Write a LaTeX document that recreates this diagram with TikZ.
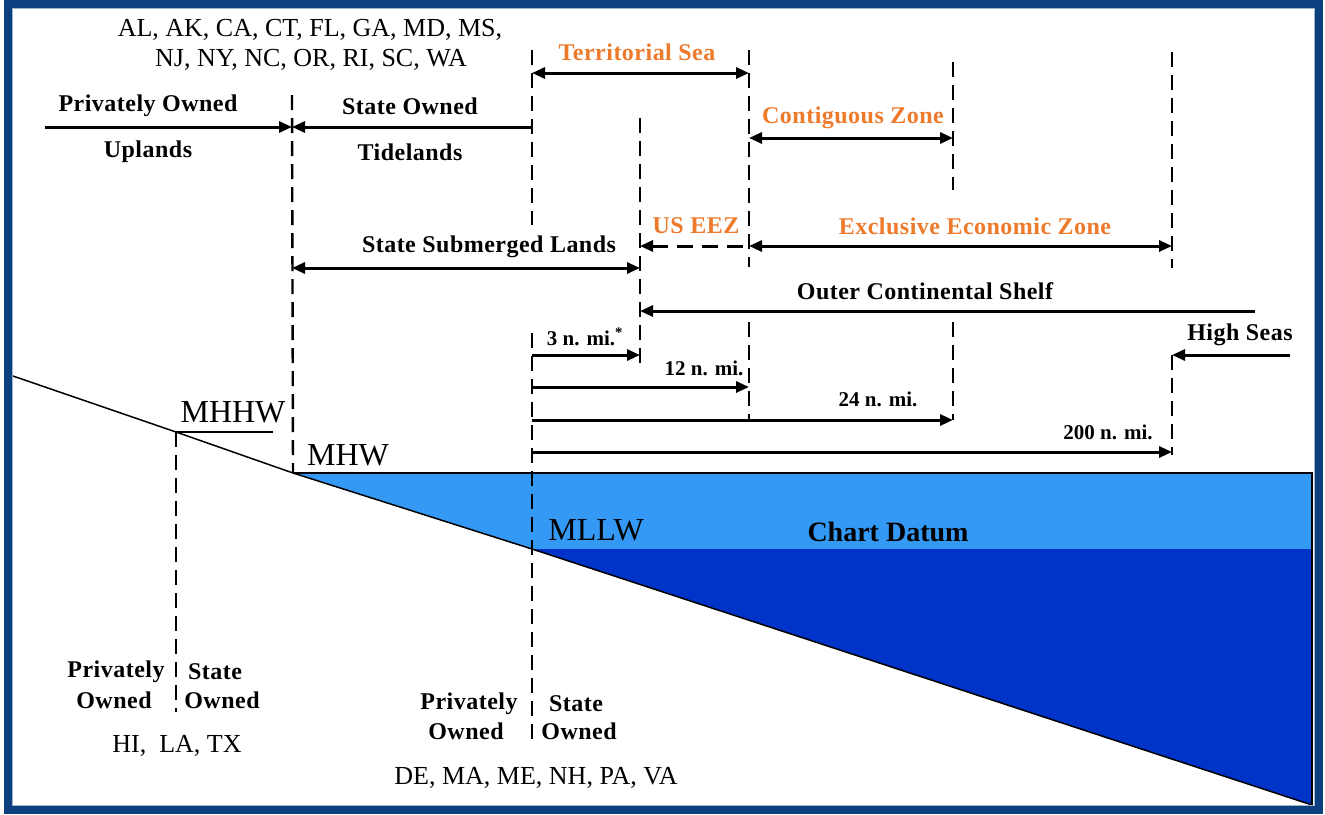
\documentclass[tikz,border=0pt]{standalone}
\usepackage{fontspec}
\setmainfont{Liberation Serif}
\newfontfamily\spacedserif[LetterSpace=2]{Liberation Serif}
\usetikzlibrary{arrows.meta}
\definecolor{frameblue}{HTML}{0B3F7E}
\definecolor{zoneorange}{HTML}{EE7A2C}
\definecolor{shallow}{HTML}{3399F5}
\definecolor{deep}{HTML}{0033C8}
\tikzset{
  lbl/.style={inner sep=0pt, font=\spacedserif\bfseries\fontsize{24}{28}\selectfont},
  olbl/.style={lbl, text=zoneorange},
  slbl/.style={inner sep=0pt, font=\bfseries\fontsize{21}{24}\selectfont},
  stlbl/.style={inner sep=0pt, font=\fontsize{26}{30}\selectfont, align=center},
  tide/.style={inner sep=0pt, font=\fontsize{32}{36}\selectfont},
  guide/.style={line width=2.4pt, dash pattern=on 15pt off 8pt},
  arr/.style={line width=3pt, -{Triangle[length=13pt,width=11pt]}},
  darr/.style={line width=3pt, {Triangle[length=13pt,width=11pt]}-{Triangle[length=13pt,width=11pt]}},
}
\begin{document}
\begin{tikzpicture}[x=1pt,y=-1pt]
\useasboundingbox (0,0) rectangle (1325,814);
\fill[white] (0,0) rectangle (1325,814);
% ground points
\coordinate (g0) at (10,375);
\coordinate (mhhw) at (176,432);
\coordinate (mhw) at (293,473);
\coordinate (mllw) at (532,549);
\coordinate (gend) at (1312,805);
\coordinate (wtop) at (1312,473);
\coordinate (wmid) at (1312,549);
% water
\fill[shallow] (mhw) -- (wtop) -- (wmid) -- (mllw) -- cycle;
\fill[deep] (mllw) -- (wmid) -- (gend) -- cycle;
\draw[line width=1.5pt] (g0) -- (mhhw) -- (mhw) -- (mllw) -- (gend);
\draw[line width=2pt] (mhw) -- (wtop) -- (gend);
% dashed guide lines
\draw[guide] (292,95) -- (mhw);
\draw[guide] (532,50) -- (532,225);
\draw[guide] (532,333) -- (532,745);
\draw[guide] (640,118) -- (640,365);
\draw[guide] (749,50) -- (749,267);
\draw[guide] (749,322) -- (749,420);
\draw[guide] (953,62) -- (953,190);
\draw[guide] (953,322) -- (953,420);
\draw[guide] (1172,52) -- (1172,268);
\draw[guide] (1172,355) -- (1172,455);
\draw[guide] (mhhw) -- (176,712);
% arrow end points
\coordinate (pu0) at (45,127);
\coordinate (pu1) at (292,127);
\coordinate (so1) at (532,127);
\coordinate (ts0) at (532,73);
\coordinate (ts1) at (749,73);
\coordinate (cz0) at (749,138);
\coordinate (cz1) at (953,138);
\coordinate (ue0) at (640,246);
\coordinate (ue1) at (749,246);
\coordinate (ez1) at (1172,246);
\coordinate (sl0) at (292,268);
\coordinate (sl1) at (640,268);
\coordinate (oc0) at (1255,311);
\coordinate (oc1) at (640,311);
\coordinate (hs0) at (1290,355);
\coordinate (hs1) at (1172,355);
\coordinate (n3a) at (532,355);
\coordinate (n3b) at (640,355);
\coordinate (n12a) at (532,387);
\coordinate (n12b) at (749,387);
\coordinate (n24a) at (532,420);
\coordinate (n24b) at (953,420);
\coordinate (n200a) at (532,452);
\coordinate (n200b) at (1172,452);
% arrows
\draw[arr] (pu0) -- (pu1);
\draw[arr] (so1) -- (pu1);
\draw[darr] (ts0) -- (ts1);
\draw[darr] (cz0) -- (cz1);
\draw[line width=3pt, dash pattern=on 16pt off 9pt, {Triangle[length=13pt,width=11pt]}-] (ue0) -- (ue1);
\draw[darr] (ue1) -- (ez1);
\draw[darr] (sl0) -- (sl1);
\draw[arr] (oc0) -- (oc1);
\draw[arr] (hs0) -- (hs1);
\draw[arr] (n3a) -- (n3b);
\draw[arr] (n12a) -- (n12b);
\draw[arr] (n24a) -- (n24b);
\draw[arr] (n200a) -- (n200b);
% texts
\node[stlbl] (st1) at (310,30) {AL, AK, CA, CT, FL, GA, MD, MS,};
\node[stlbl] (st2) at (311,60) {NJ, NY, NC, OR, RI, SC, WA};
\node[lbl] (po) at (148,106) {Privately Owned};
\node[lbl] (up) at (148,152) {Uplands};
\node[lbl] (so) at (410,106) {State Owned};
\node[lbl] (td) at (410,152) {Tidelands};
\node[olbl] (tsl) at (637,52) {Territorial Sea};
\node[olbl] (czl) at (853,118) {Contiguous Zone};
\node[olbl] (uel) at (696,226) {US EEZ};
\node[olbl] (ezl) at (975,226) {Exclusive Economic Zone};
\node[lbl] (sll) at (489,247) {State Submerged Lands};
\node[lbl] (ocl) at (925,291) {Outer Continental Shelf};
\node[lbl] (hsl) at (1240,335) {High Seas};
\node[slbl] (n3l) at (585,337) {3 n. mi.\textsuperscript{*}};
\node[slbl] (n12l) at (704,368) {12 n. mi.};
\node[slbl] (n24l) at (878,399) {24 n. mi.};
\node[slbl] (n200l) at (1108,432) {200 n. mi.};
\node[tide] (mhhwl) at (233,412) {MHHW};
\draw[line width=1.5pt] (mhhw) -- (273,432);
\node[tide] (mhwl) at (348,455) {MHW};
\node[tide] (mllwl) at (596,530) {MLLW};
\node[inner sep=0pt, font=\bfseries\fontsize{28}{32}\selectfont] (cd) at (888,532) {Chart Datum};
\node[lbl] (bp1) at (116,672) {Privately};
\node[lbl] (bo1) at (114,700) {Owned};
\node[lbl] (bs1) at (215,672) {State};
\node[lbl] (bo2) at (222,700) {Owned};
\node[stlbl] (hi) at (177,746) {HI,\ \ LA, TX};
\node[lbl] (bp2) at (469,704) {Privately};
\node[lbl] (bo3) at (466,731) {Owned};
\node[lbl] (bs2) at (576,704) {State};
\node[lbl] (bo4) at (579,731) {Owned};
\node[stlbl] (de) at (536,778) {DE, MA, ME, NH, PA, VA};
% frame
\draw[line width=8pt, frameblue] (8,4) rectangle (1319,810);
\draw[line width=1pt, frameblue!40] (12.5,8.5) rectangle (1314.5,805.5);
\end{tikzpicture}
\end{document}
